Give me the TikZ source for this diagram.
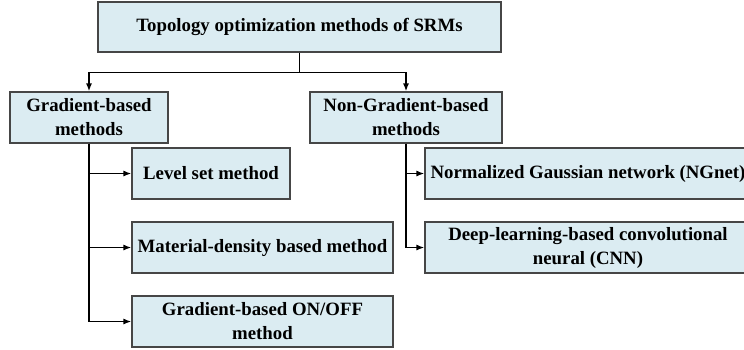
\documentclass[tikz,border=0pt]{standalone}
\usepackage{fontspec}
\setmainfont{Liberation Serif}
\usetikzlibrary{arrows.meta}
\definecolor{boxfill}{RGB}{219,236,242}
\definecolor{boxline}{RGB}{70,70,70}
\tikzset{
  catbox/.style={draw=boxline, line width=1.1pt, fill=boxfill, align=center,
    inner sep=0pt, font=\bfseries\fontsize{18.8}{24}\selectfont},
  link/.style={line width=1.5pt, -{Latex[length=8pt,width=6pt]}}
}
\begin{document}
\begin{tikzpicture}[x=1pt,y=-1pt]
\useasboundingbox (0,0) rectangle (744,349);
\clip (0,0) rectangle (744,349);
% root
\node[catbox, minimum width=403pt, minimum height=50pt] (root) at (299.5,27)
  {Topology optimization methods of SRMs};
% two families
\node[catbox, minimum width=158pt, minimum height=51pt] (grad) at (89,117.5)
  {Gradient-based\\methods};
\node[catbox, minimum width=192pt, minimum height=51pt] (nongrad) at (406,117.5)
  {Non-Gradient-based\\methods};
% gradient-based methods
\node[catbox, minimum width=158pt, minimum height=51pt] (level) at (211,173.5)
  {Level set method};
\node[catbox, minimum width=261pt, minimum height=51pt] (density) at (262.5,247.5)
  {Material-density based method};
\node[catbox, minimum width=261pt, minimum height=51pt] (onoff) at (262.5,321.5)
  {Gradient-based ON/OFF\\method};
% non-gradient methods
\node[catbox, minimum width=326pt, minimum height=51pt] (ngnet) at (588,173.5)
  {Normalized Gaussian network (NGnet)};
\node[catbox, minimum width=326pt, minimum height=51pt] (cnn) at (588,247.5)
  {Deep-learning-based convolutional\\neural (CNN)};
% connectors
\draw[link] (root.south) -- ++(0,20) -| (grad.north);
\draw[link] (root.south) -- ++(0,20) -| (nongrad.north);
\draw[link] (grad.south) |- (level.west);
\draw[link] (grad.south) |- (density.west);
\draw[link] (grad.south) |- (onoff.west);
\draw[link] (nongrad.south) |- (ngnet.west);
\draw[link] (nongrad.south) |- (cnn.west);
\end{tikzpicture}
\end{document}
